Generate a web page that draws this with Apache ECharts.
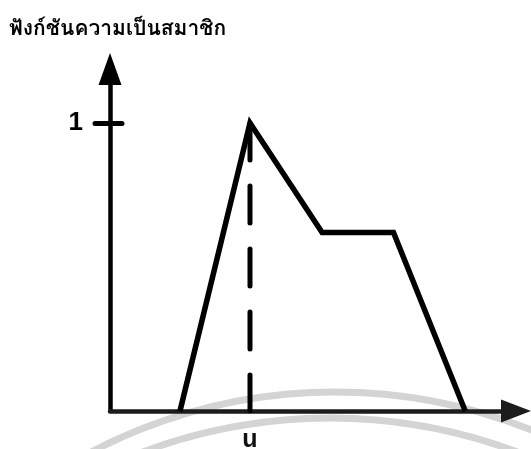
<!DOCTYPE html>
<html>
<head>
<meta charset="utf-8">
<script src="https://cdn.jsdelivr.net/npm/echarts@6/dist/echarts.min.js"></script>
<style>
  html, body { margin: 0; padding: 0; background: #fff; }
  #chart { width: 531px; height: 449px; }
</style>
</head>
<body>
<div id="chart"></div>
<script>
// membership function outline
const shapeX = [2, 4, 6.06, 8.1, 10.15];
const shapeY = [0, 1, 0.62, 0.62, 0];
// dashed marker at u
const markX = 4;
const markTop = 1;
const yTickValues = [1];
const xTickLabel = 'u';
const titleText = 'ฟังก์ชันความเป็นสมาชิก';

const chart = echarts.init(document.getElementById('chart'));
const ink = '#1c1c1c';
const fontStack = 'Loma, Garuda, Tahoma, "Noto Sans Thai", "Noto Sans", "Liberation Sans", Arial, sans-serif';
const latin = '"Liberation Sans", Arial, sans-serif';

const yAxisBase = {
    type: 'value', min: 0, max: 1.1875,
    splitLine: { show: false }
};

chart.setOption({
    animation: false,
    backgroundColor: '#fff',
    title: {
        text: titleText, left: 4, top: 15,
        textStyle: { color: '#000', fontSize: 21, fontWeight: 'bold', fontFamily: fontStack }
    },
    grid: { left: 110, right: 15, top: 69, bottom: 38, outerBoundsMode: 'none', containLabel: false },
    xAxis: {
        type: 'value', min: 0, max: 11.6,
        splitLine: { show: false },
        axisLine: { show: true, lineStyle: { color: ink, width: 4.5 }, symbol: ['none', 'triangle'], symbolSize: [23, 30] },
        axisTick: { show: false },
        axisLabel: {
            customValues: [markX], formatter: () => xTickLabel, margin: 17,
            color: '#111', fontSize: 25, fontWeight: 'bold', fontFamily: latin
        }
    },
    yAxis: [
        {
            ...yAxisBase,
            axisLine: { show: true, lineStyle: { color: '#000', width: 4.5 }, symbol: ['none', 'triangle'], symbolSize: [23, 32] },
            axisTick: { show: true, customValues: yTickValues, length: 15, lineStyle: { color: '#000', width: 5, cap: 'round' } },
            axisLabel: {
                customValues: yTickValues, margin: 27,
                color: '#000', fontSize: 26, fontWeight: 'bold', fontFamily: latin
            }
        },
        {
            ...yAxisBase, position: 'left',
            axisLine: { show: false },
            axisTick: { show: true, inside: true, customValues: yTickValues, length: 12, lineStyle: { color: '#000', width: 5, cap: 'round' } },
            axisLabel: { show: false }
        }
    ],
    graphic: [
        { type: 'circle', z: -10, shape: { cx: 335, cy: 917, r: 525 }, style: { fill: 'none', stroke: '#d4d4d4', lineWidth: 7 } },
        { type: 'circle', z: -10, shape: { cx: 330, cy: 951, r: 533 }, style: { fill: 'none', stroke: '#d4d4d4', lineWidth: 7 } }
    ],
    series: [
        {
            type: 'line', yAxisIndex: 0, symbol: 'none', z: 5,
            lineStyle: { color: '#000', width: 5.5, join: 'miter', cap: 'butt' },
            data: shapeX.map((x, i) => [x, shapeY[i]])
        },
        {
            type: 'line', yAxisIndex: 0, symbol: 'none', z: 4,
            lineStyle: { color: '#000', width: 5, type: [37, 26], cap: 'round' },
            data: [[markX, markTop], [markX, 0]]
        }
    ]
});
</script>
</body>
</html>
